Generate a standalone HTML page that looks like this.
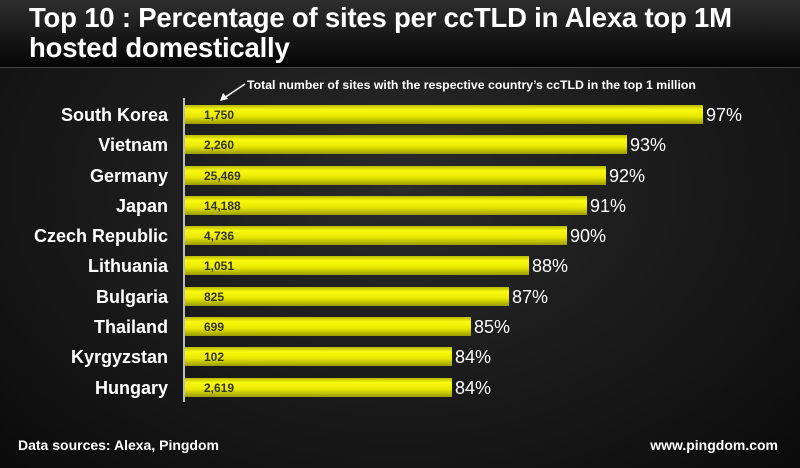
<!DOCTYPE html>
<html><head><meta charset="utf-8"><style>
body{margin:0;width:800px;height:468px;overflow:hidden;font-family:"Liberation Sans",sans-serif;
background:radial-gradient(ellipse at 50% 40%,#2a2a2a 0%,#151515 70%,#0a0a0a 100%);position:relative}
.hdr{position:absolute;left:0;top:0;width:800px;height:67px;background:linear-gradient(#2e2e2e,#050505);border-bottom:1px solid #444}
.t{position:absolute;left:29px;top:3px;color:#fff;font-weight:bold;font-size:27.5px;line-height:30px;letter-spacing:-0.2px;white-space:nowrap}
.lab{position:absolute;right:632px;color:#fff;font-weight:bold;font-size:18px;line-height:20px;text-align:right;white-space:nowrap}
.bar{position:absolute;left:185px;height:19px;background:linear-gradient(#b8b800 0%,#fafa10 25%,#e8e800 60%,#9a9a00 100%);}
.n{position:absolute;left:19px;top:3px;font-size:12px;font-weight:bold;color:#333}
.p{position:absolute;color:#fff;font-size:18px;line-height:20px}
.ax{position:absolute;left:183px;top:98px;width:2px;height:304px;background:#bbb}
.f{position:absolute;top:437px;color:#fff;font-weight:bold;font-size:14px}
</style></head><body>
<div class="hdr"><div class="t">Top 10 : Percentage of sites per ccTLD in Alexa top 1M<br>hosted domestically</div></div>
<div style="position:absolute;left:247px;top:78px;color:#fff;font-size:12.3px;font-weight:bold;white-space:nowrap">Total number of sites with the respective country’s ccTLD in the top 1 million</div>
<svg style="position:absolute;left:215px;top:80px" width="35" height="25"><line x1="30" y1="4" x2="9" y2="18" stroke="#fff" stroke-width="1.5"/><path d="M5 21 L8 13 L13 19 Z" fill="#fff"/></svg>
<div class="ax"></div>
<div class="lab" style="top:105px">South Korea</div><div class="bar" style="top:105px;width:518px"><span class="n">1,750</span></div><div class="p" style="left:706px;top:105px">97%</div>
<div class="lab" style="top:135px">Vietnam</div><div class="bar" style="top:135px;width:442px"><span class="n">2,260</span></div><div class="p" style="left:630px;top:135px">93%</div>
<div class="lab" style="top:166px">Germany</div><div class="bar" style="top:166px;width:421px"><span class="n">25,469</span></div><div class="p" style="left:609px;top:166px">92%</div>
<div class="lab" style="top:196px">Japan</div><div class="bar" style="top:196px;width:402px"><span class="n">14,188</span></div><div class="p" style="left:590px;top:196px">91%</div>
<div class="lab" style="top:226px">Czech Republic</div><div class="bar" style="top:226px;width:382px"><span class="n">4,736</span></div><div class="p" style="left:570px;top:226px">90%</div>
<div class="lab" style="top:256px">Lithuania</div><div class="bar" style="top:256px;width:344px"><span class="n">1,051</span></div><div class="p" style="left:532px;top:256px">88%</div>
<div class="lab" style="top:287px">Bulgaria</div><div class="bar" style="top:287px;width:324px"><span class="n">825</span></div><div class="p" style="left:512px;top:287px">87%</div>
<div class="lab" style="top:317px">Thailand</div><div class="bar" style="top:317px;width:286px"><span class="n">699</span></div><div class="p" style="left:474px;top:317px">85%</div>
<div class="lab" style="top:347px">Kyrgyzstan</div><div class="bar" style="top:347px;width:267px"><span class="n">102</span></div><div class="p" style="left:455px;top:347px">84%</div>
<div class="lab" style="top:378px">Hungary</div><div class="bar" style="top:378px;width:267px"><span class="n">2,619</span></div><div class="p" style="left:455px;top:378px">84%</div>
<div class="f" style="left:18px">Data sources: Alexa, Pingdom</div>
<div class="f" style="right:22px">www.pingdom.com</div>
</body></html>
